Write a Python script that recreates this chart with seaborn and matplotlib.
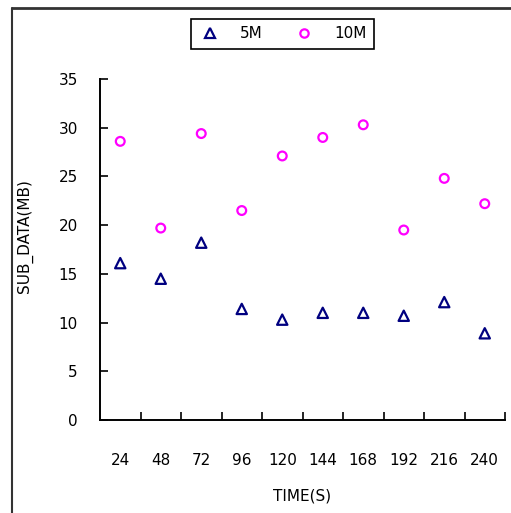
import matplotlib
matplotlib.use("Agg")
import matplotlib.pyplot as plt
import seaborn as sns
import pandas as pd
from matplotlib.lines import Line2D

times = ["24", "48", "72", "96", "120", "144", "168", "192", "216", "240"]
series_names = ["5M", "10M"]
values_5m = [16.1, 14.5, 18.2, 11.4, 10.3, 11.0, 11.0, 10.7, 12.1, 8.9]
values_10m = [28.6, 19.7, 29.4, 21.5, 27.1, 29.0, 30.3, 19.5, 24.8, 22.2]
y_ticks = [0, 5, 10, 15, 20, 25, 30, 35]

colors = {"5M": "#000080", "10M": "#FF00FF"}
markers = {"5M": "^", "10M": "o"}
sizes = {"5M": 55, "10M": 40}

df = pd.DataFrame({
    "TIME": times * 2,
    "series": ["5M"] * len(times) + ["10M"] * len(times),
    "value": values_5m + values_10m,
})

sns.set_style("white")
plt.rcParams["font.family"] = ["DejaVu Sans"]
plt.rcParams["text.color"] = "black"
plt.rcParams["axes.labelcolor"] = "black"
plt.rcParams["xtick.color"] = "black"
plt.rcParams["ytick.color"] = "black"

fig = plt.figure(figsize=(5.11, 5.13), dpi=100)
ax = fig.add_axes([100 / 511, 93 / 513, 405 / 511, 341 / 513])

for name in series_names:
    sub = df[df["series"] == name]
    sns.scatterplot(data=sub, x="TIME", y="value", ax=ax, color=colors[name],
                    marker=markers[name], facecolor="none", edgecolor=colors[name],
                    linewidth=1.6, s=sizes[name], label=name, legend=False, zorder=3)

ax.set_xlim(-0.5, len(times) - 0.5)
ax.set_ylim(0, 35)
ax.set_yticks(y_ticks)
ax.set_yticklabels([str(v) for v in y_ticks])
ax.set_xticks(range(len(times)))
ax.set_xticklabels(times)
ax.set_xticks([i + 0.5 for i in range(len(times))], minor=True)

ax.tick_params(axis="x", which="major", length=0, pad=24, labelsize=11, labelcolor="black")
ax.tick_params(axis="x", which="minor", length=6, width=1.2, direction="in",
               color="black", bottom=True)
ax.tick_params(axis="y", which="major", length=6, width=1.2, direction="in",
               pad=16, labelsize=11, left=True, color="black", labelcolor="black")

for s in ["top", "right"]:
    ax.spines[s].set_visible(False)
for s in ["left", "bottom"]:
    ax.spines[s].set_color("black")
    ax.spines[s].set_linewidth(1.4)

ax.set_xlabel("TIME(S)", fontsize=11, color="black")
ax.set_ylabel("SUB_DATA(MB)", fontsize=11, color="black")
ax.xaxis.set_label_coords(0.5, -0.2)
ax.yaxis.set_label_coords(-0.165, 0.54)

handles = [Line2D([], [], linestyle="none", marker=markers[n], markersize=7 if n == "5M" else 6,
                  markerfacecolor="none", markeredgecolor=colors[n], markeredgewidth=1.6)
           for n in series_names]
leg = fig.legend(handles, series_names, loc="center", bbox_to_anchor=(282.5 / 511, 1 - 34 / 513),
                 ncol=2, frameon=True, fancybox=False, edgecolor="black", framealpha=1,
                 fontsize=11, handletextpad=1.2, columnspacing=2.0, borderpad=0.5,
                 handlelength=1.5, labelcolor="black")
leg.get_frame().set_linewidth(1.2)

fig.add_artist(Line2D([12 / 511, 1.0], [1 - 8 / 513, 1 - 8 / 513], transform=fig.transFigure,
                      color="#333333", linewidth=2))
fig.add_artist(Line2D([12 / 511, 12 / 511], [0, 1 - 8 / 513], transform=fig.transFigure,
                      color="#333333", linewidth=1.5))

fig.savefig("out.png", dpi=100)
